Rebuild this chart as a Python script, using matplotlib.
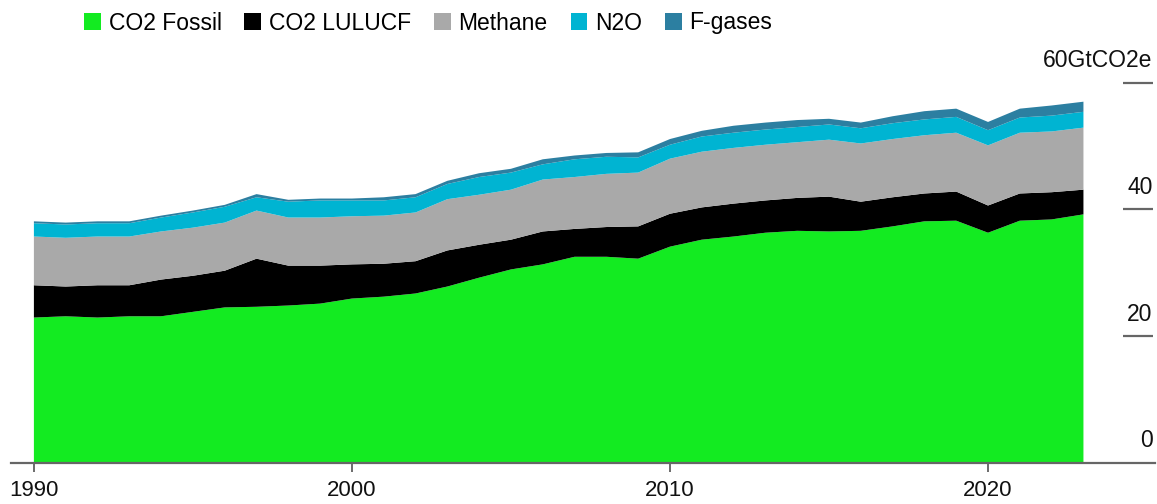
import matplotlib.pyplot as plt
import matplotlib.transforms as mtransforms
from matplotlib.patches import Patch

plt.rcParams['font.family'] = ['Liberation Sans', 'DejaVu Sans']

years = list(range(1990, 2024))

co2_fossil = [22.9, 23.1, 22.9, 23.1, 23.1, 23.8, 24.5, 24.6, 24.8, 25.1,
              25.9, 26.2, 26.7, 27.8, 29.2, 30.5, 31.3, 32.5, 32.5, 32.2,
              34.1, 35.2, 35.7, 36.3, 36.6, 36.5, 36.6, 37.3, 38.1, 38.2,
              36.3, 38.2, 38.4, 39.2]
co2_lulucf = [5.1, 4.7, 5.1, 4.9, 5.8, 5.7, 5.8, 7.6, 6.3, 6.0,
              5.4, 5.2, 5.1, 5.7, 5.2, 4.7, 5.2, 4.4, 4.7, 5.1,
              5.2, 5.1, 5.2, 5.1, 5.2, 5.5, 4.6, 4.6, 4.4, 4.6,
              4.3, 4.3, 4.3, 3.9]
methane = [7.7, 7.7, 7.7, 7.7, 7.6, 7.6, 7.6, 7.6, 7.6, 7.6,
           7.6, 7.6, 7.7, 8.1, 7.9, 7.9, 8.2, 8.2, 8.4, 8.5,
           8.7, 8.8, 8.8, 8.8, 8.8, 9.0, 9.2, 9.2, 9.2, 9.3,
           9.5, 9.6, 9.6, 9.8]
n2o = [2.1, 2.1, 2.1, 2.1, 2.2, 2.4, 2.5, 2.1, 2.5, 2.7,
       2.5, 2.4, 2.4, 2.4, 2.8, 2.7, 2.4, 2.8, 2.7, 2.4,
       2.2, 2.4, 2.4, 2.4, 2.4, 2.4, 2.4, 2.5, 2.5, 2.5,
       2.4, 2.4, 2.5, 2.5]
f_gases = [0.3, 0.3, 0.3, 0.3, 0.3, 0.3, 0.3, 0.5, 0.3, 0.3,
           0.3, 0.5, 0.5, 0.5, 0.6, 0.6, 0.8, 0.6, 0.6, 0.8,
           0.9, 0.9, 1.1, 1.1, 1.1, 0.9, 0.9, 1.1, 1.3, 1.3,
           1.3, 1.4, 1.6, 1.6]

labels = ['CO2 Fossil', 'CO2 LULUCF', 'Methane', 'N2O', 'F-gases']
colors = ['#13EB21', '#000000', '#A9A9A9', '#00B4D2', '#2C7FA1']

y_ticks = [0, 20, 40, 60]
y_labels = ['0', '20', '40', '60GtCO2e']
x_ticks = [1990, 2000, 2010, 2020]

fig = plt.figure(figsize=(11.57, 5.04), dpi=100)
ax = fig.add_axes([11 / 1157, 1 - 462.5 / 504, 1144 / 1157, (462.5 - 82.7) / 504])

ax.stackplot(years, co2_fossil, co2_lulucf, methane, n2o, f_gases,
             colors=colors, linewidth=0)

ax.set_xlim(1989.28, 2025.25)
ax.set_ylim(0, 60)

for s in ['top', 'right', 'left']:
    ax.spines[s].set_visible(False)
ax.spines['bottom'].set_color('#666666')
ax.spines['bottom'].set_linewidth(1.6)
ax.spines['bottom'].set_zorder(5)

ax.set_yticks([])
ax.set_xticks(x_ticks)
ax.set_xticklabels([str(x) for x in x_ticks], fontsize=16, color='#111111')
ax.tick_params(axis='x', length=6.5, width=1.1, color='#444444', pad=6)

trans = mtransforms.blended_transform_factory(ax.transAxes, ax.transData)
for t, lab in zip(y_ticks, y_labels):
    if t > 0:
        ax.plot([0.972, 0.998], [t, t], transform=trans, color='#666666',
                lw=1.6, clip_on=False, solid_capstyle='butt')
    ax.annotate(lab, xy=(0.998, t), xycoords=trans, xytext=(0, 11),
                textcoords='offset points', ha='right', va='baseline',
                fontsize=16.5, color='#111111', annotation_clip=False)

handles = [Patch(facecolor=c, edgecolor='none') for c in colors]
fig.legend(handles, labels, loc='center left', bbox_to_anchor=(84 / 1157, 1 - 23 / 504),
           ncol=5, frameon=False, fontsize=16.5, handlelength=0.72, handleheight=0.72,
           handletextpad=0.35, columnspacing=1.0, borderpad=0, borderaxespad=0)

fig.savefig('out.png', dpi=100)
